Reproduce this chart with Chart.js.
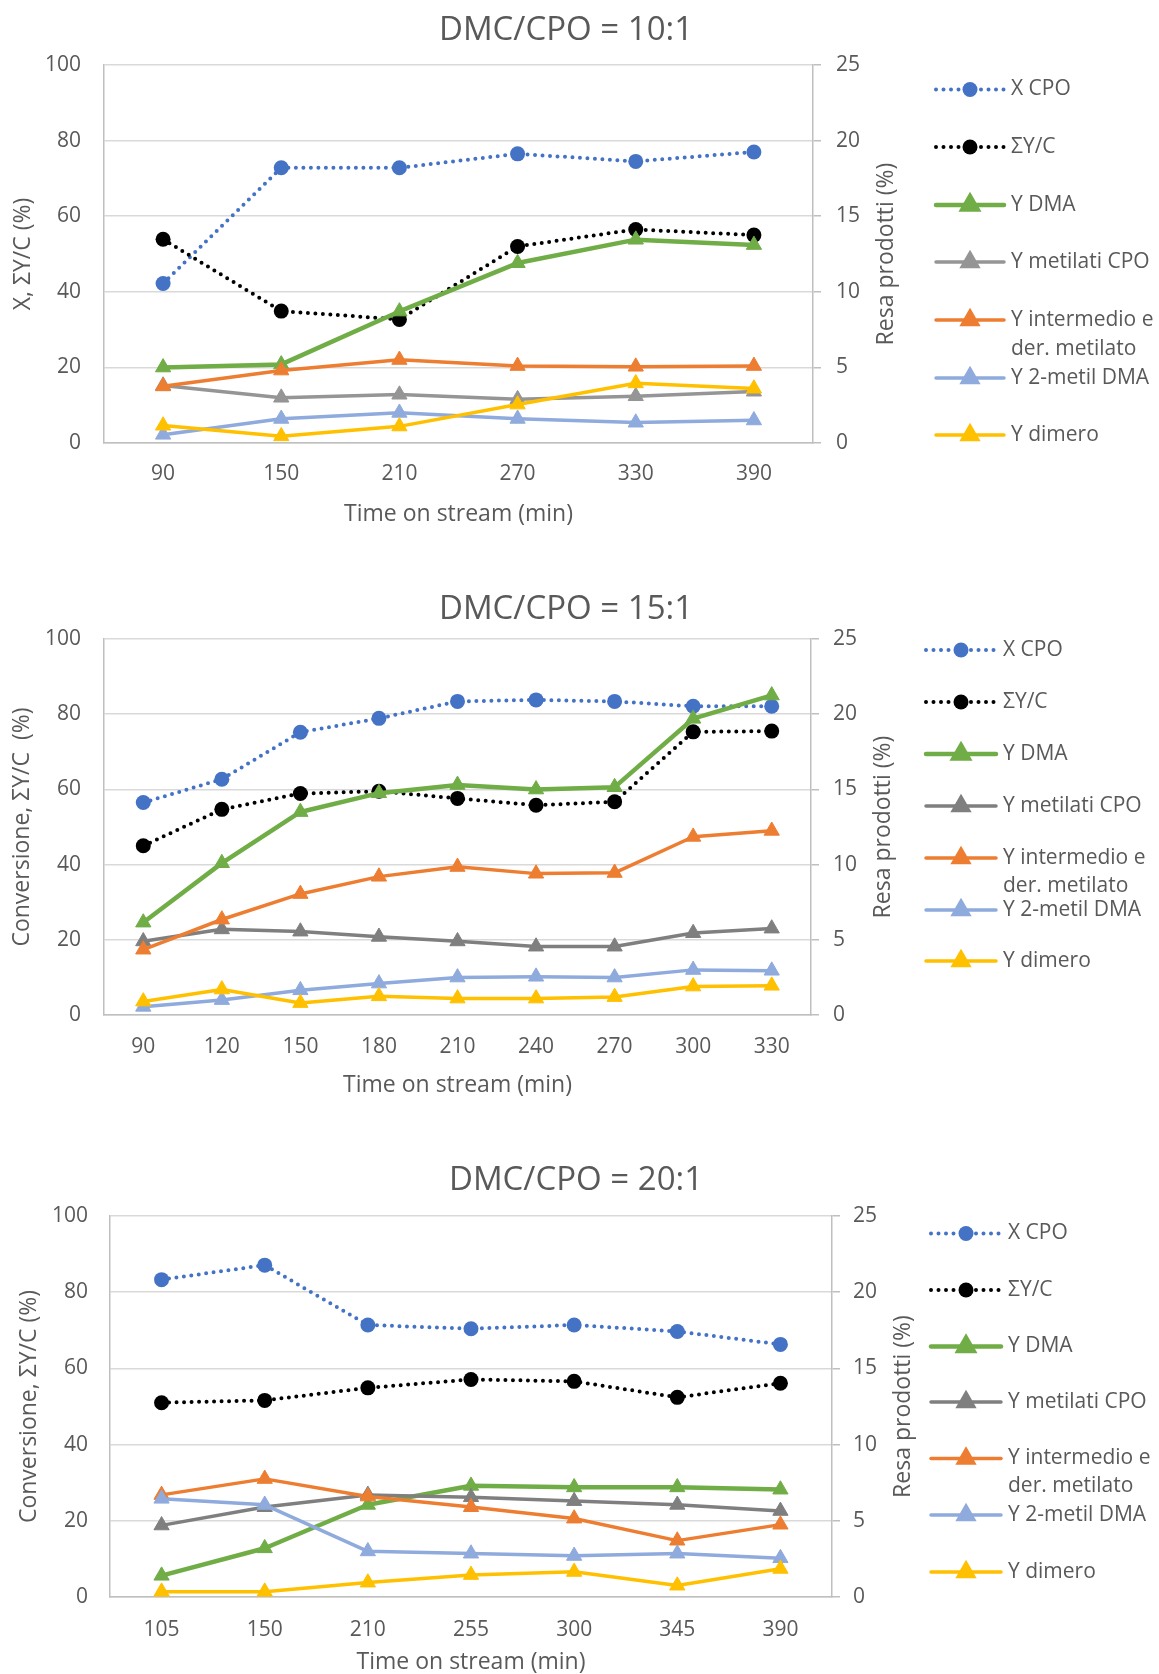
<!DOCTYPE html>
<html>
<head>
<meta charset="utf-8">
<script src="https://cdn.jsdelivr.net/npm/chart.js@4.4.1/dist/chart.umd.min.js"></script>
<style>
  html, body { margin: 0; padding: 0; background: #ffffff; }
  #page { position: relative; width: 1159px; height: 1674px; background: #ffffff; }
  .panel { position: absolute; left: 0; width: 1159px; }
  .panel canvas { display: block; }
</style>
</head>
<body>
<div id="page">
  <div class="panel" style="top:0px;height:545px"><canvas id="c10" width="1159" height="545"></canvas></div>
  <div class="panel" style="top:560px;height:545px"><canvas id="c15" width="1159" height="545"></canvas></div>
  <div class="panel" style="top:1140px;height:534px"><canvas id="c20" width="1159" height="534"></canvas></div>
</div>
<script>
// ---- DMC/CPO = 10:1 ----
const time10   = ['90', '150', '210', '270', '330', '390'];
const xCPO10   = [42.2, 72.8, 72.8, 76.5, 74.5, 77.0];   // %, left axis
const sumYC10  = [53.9, 34.9, 32.7, 52.0, 56.5, 55.0];   // %, left axis
const yDMA10   = [5.0, 5.2, 8.7, 11.9, 13.45, 13.1];     // %, right axis
const yMet10   = [3.8, 3.0, 3.2, 2.9, 3.1, 3.4];
const yInt10   = [3.75, 4.8, 5.5, 5.1, 5.05, 5.1];
const y2Met10  = [0.55, 1.6, 2.0, 1.6, 1.35, 1.5];
const yDim10   = [1.15, 0.45, 1.1, 2.55, 3.95, 3.6];

// ---- DMC/CPO = 15:1 ----
const time15   = ['90', '120', '150', '180', '210', '240', '270', '300', '330'];
const xCPO15   = [56.5, 62.7, 75.2, 78.9, 83.4, 83.8, 83.4, 82.1, 82.1];
const sumYC15  = [45.0, 54.7, 58.9, 59.5, 57.6, 55.8, 56.7, 75.3, 75.5];
const yDMA15   = [6.15, 10.1, 13.5, 14.75, 15.3, 15.0, 15.15, 19.7, 21.25];
const yMet15   = [4.9, 5.7, 5.55, 5.2, 4.9, 4.55, 4.55, 5.45, 5.75];
const yInt15   = [4.35, 6.35, 8.05, 9.2, 9.85, 9.4, 9.45, 11.85, 12.25];
const y2Met15  = [0.55, 1.0, 1.65, 2.1, 2.5, 2.55, 2.5, 3.0, 2.95];
const yDim15   = [0.9, 1.7, 0.8, 1.25, 1.1, 1.1, 1.2, 1.9, 1.95];

// ---- DMC/CPO = 20:1 ----
const time20   = ['105', '150', '210', '255', '300', '345', '390'];
const xCPO20   = [83.3, 87.1, 71.4, 70.4, 71.4, 69.7, 66.3];
const sumYC20  = [51.0, 51.6, 54.9, 57.1, 56.6, 52.4, 56.1];
const yDMA20   = [1.4, 3.2, 6.05, 7.3, 7.2, 7.2, 7.05];
const yMet20   = [4.7, 5.9, 6.7, 6.55, 6.3, 6.05, 5.65];
const yInt20   = [6.7, 7.75, 6.6, 5.9, 5.15, 3.7, 4.75];
const y2Met20  = [6.45, 6.05, 3.0, 2.85, 2.7, 2.85, 2.55];
const yDim20   = [0.35, 0.35, 0.95, 1.45, 1.65, 0.75, 1.85];

// Axis ticks and labels
const leftTicks  = { min: 0, max: 100, step: 20 };
const rightTicks = { min: 0, max: 25, step: 5 };
const seriesNames = ['X CPO', 'ΣY/C', 'Y DMA', 'Y metilati CPO', 'Y intermedio e\nder. metilato', 'Y 2-metil DMA', 'Y dimero'];
const xAxisTitle = 'Time on stream (min)';
const rightAxisTitle = 'Resa prodotti (%)';

const FONT = "'Open Sans', 'Noto Sans', 'DejaVu Sans', sans-serif";
const TEXT = '#595959';
const GRID = '#d9d9d9';
const AXIS = '#bfbfbf';
const TICK_SIZE = 21;

function makeSeries(vals, grayColor) {
  const [xc, sy, dma, met, intm, m2, dim] = vals;
  const dotted = (label, data, color, order) => ({
    label, data, yAxisID: 'y', order,
    borderColor: color, backgroundColor: color,
    borderWidth: 4, borderDash: [0, 7.5], borderCapStyle: 'round',
    pointStyle: 'circle', pointRadius: 7.5, pointBorderWidth: 0,
    pointBackgroundColor: color, tension: 0, clip: false
  });
  const solid = (label, data, color, order, w) => ({
    label, data, yAxisID: 'y2', order,
    borderColor: color, backgroundColor: color,
    borderWidth: w, borderCapStyle: 'round', borderJoinStyle: 'round',
    pointStyle: 'triangle', pointRadius: 8.8, pointBorderWidth: 1,
    pointBackgroundColor: color, pointBorderColor: color, tension: 0, clip: false
  });
  return [
    dotted(seriesNames[0], xc, '#4472c4', 6),
    dotted(seriesNames[1], sy, '#000000', 5),
    solid(seriesNames[2], dma, '#70ad47', 4, 4.5),
    solid(seriesNames[3], met, grayColor, 3, 3.5),
    solid(seriesNames[4], intm, '#ed7d31', 2, 3.5),
    solid(seriesNames[5], m2, '#8faadc', 1, 3.5),
    solid(seriesNames[6], dim, '#ffc000', 0, 3.5)
  ];
}

// Titles, axis titles and legend drawn on top of the plot
const decorPlugin = {
  id: 'decor',
  afterDraw(chart, args, g) {
    const ctx = chart.ctx;
    const ca = chart.chartArea;
    ctx.save();
    ctx.fillStyle = TEXT;
    // chart title
    ctx.font = `33px ${FONT}`;
    ctx.textAlign = 'center';
    ctx.textBaseline = 'middle';
    ctx.fillText(g.title, g.titleX, g.titleY);
    // x axis title
    ctx.font = `23px ${FONT}`;
    ctx.fillText(xAxisTitle, (ca.left + ca.right) / 2, g.xTitleY);
    // rotated y axis titles
    const cy = (ca.top + ca.bottom) / 2;
    [[g.yTitle, g.yTitleX], [rightAxisTitle, g.y2TitleX]].forEach(([t, x]) => {
      ctx.save();
      ctx.translate(x, cy);
      ctx.rotate(-Math.PI / 2);
      ctx.fillText(t, 0, 0);
      ctx.restore();
    });
    // legend
    ctx.font = `21px ${FONT}`;
    ctx.textAlign = 'left';
    chart.data.datasets.forEach((ds, i) => {
      const y = g.legendY[i];
      const mx = (g.lx0 + g.lx1) / 2;
      ctx.save();
      ctx.strokeStyle = ds.borderColor;
      ctx.lineWidth = ds.borderWidth;
      ctx.lineCap = 'round';
      ctx.setLineDash(ds.borderDash || []);
      ctx.beginPath();
      ctx.moveTo(g.lx0, y);
      ctx.lineTo(g.lx1, y);
      ctx.stroke();
      ctx.setLineDash([]);
      ctx.fillStyle = ds.pointBackgroundColor;
      ctx.strokeStyle = ds.pointBorderColor || ds.pointBackgroundColor;
      Chart.helpers.drawPoint(ctx, {
        pointStyle: ds.pointStyle, radius: ds.pointRadius, rotation: 0,
        borderWidth: ds.pointBorderWidth
      }, mx, y);
      ctx.restore();
      ctx.fillStyle = TEXT;
      ds.label.split('\n').forEach((line, k) => {
        ctx.fillText(line, g.tx, y + k * g.legendLine);
      });
    });
    ctx.restore();
  }
};

function buildChart(id, labels, series, g) {
  const canvas = document.getElementById(id);
  const W = canvas.width, H = canvas.height;
  return new Chart(canvas, {
    type: 'line',
    data: { labels, datasets: series },
    options: {
      responsive: false,
      animation: false,
      devicePixelRatio: 1,
      events: [],
      layout: { padding: { top: g.top, left: 0, right: 0, bottom: 0 } },
      plugins: {
        legend: { display: false },
        title: { display: false },
        tooltip: { enabled: false },
        decor: g
      },
      scales: {
        x: {
          type: 'category', offset: true,
          grid: { display: false, drawTicks: false },
          border: { display: true, color: AXIS, width: 1.5 },
          ticks: { color: TEXT, font: { family: FONT, size: TICK_SIZE }, padding: g.xTickPad,
                   maxRotation: 0, autoSkip: false },
          afterFit(s) { s.height = H - g.bottom; }
        },
        y: {
          position: 'left', min: leftTicks.min, max: leftTicks.max,
          ticks: { stepSize: leftTicks.step, color: TEXT, font: { family: FONT, size: TICK_SIZE }, padding: g.yTickPad },
          grid: { color: GRID, lineWidth: 1.5, drawTicks: false },
          border: { display: true, color: AXIS, width: 1.5 },
          afterFit(s) { s.width = g.left; }
        },
        y2: {
          position: 'right', min: rightTicks.min, max: rightTicks.max,
          ticks: { stepSize: rightTicks.step, color: TEXT, font: { family: FONT, size: TICK_SIZE }, padding: g.y2TickPad },
          grid: { drawOnChartArea: false, drawTicks: true, tickLength: 8, color: AXIS, lineWidth: 1.5 },
          border: { display: true, color: AXIS, width: 1.5 },
          afterFit(s) { s.width = W - g.right; }
        }
      }
    },
    plugins: [decorPlugin]
  });
}

buildChart('c10', time10,
  makeSeries([xCPO10, sumYC10, yDMA10, yMet10, yInt10, y2Met10, yDim10], '#959595'),
  { title: 'DMC/CPO = 10:1', titleX: 566, titleY: 31,
    top: 65, bottom: 443, left: 104, right: 813,
    yTickPad: 23, y2TickPad: 15, xTickPad: 18.4,
    yTitle: 'X, ΣY/C (%)', yTitleX: 23, y2TitleX: 886, xTitleY: 514,
    lx0: 936, lx1: 1004, tx: 1011, legendLine: 29,
    legendY: [89.5, 147, 205, 262, 320, 378, 435] });

buildChart('c15', time15,
  makeSeries([xCPO15, sumYC15, yDMA15, yMet15, yInt15, y2Met15, yDim15], '#7f7f7f'),
  { title: 'DMC/CPO = 15:1', titleX: 566, titleY: 50,
    top: 79, bottom: 455, left: 104, right: 811,
    yTickPad: 23, y2TickPad: 14, xTickPad: 19.4,
    yTitle: 'Conversione, ΣY/C  (%)', yTitleX: 22, y2TitleX: 883, xTitleY: 525,
    lx0: 926, lx1: 996, tx: 1003, legendLine: 28,
    legendY: [90, 142, 194, 246, 298, 350, 401] });

buildChart('c20', time20,
  makeSeries([xCPO20, sumYC20, yDMA20, yMet20, yInt20, y2Met20, yDim20], '#7f7f7f'),
  { title: 'DMC/CPO = 20:1', titleX: 576, titleY: 41,
    top: 76, bottom: 457, left: 110, right: 832,
    yTickPad: 22, y2TickPad: 13, xTickPad: 20.4,
    yTitle: 'Conversione, ΣY/C (%)', yTitleX: 29, y2TitleX: 903, xTitleY: 522,
    lx0: 931, lx1: 1001, tx: 1008, legendLine: 28,
    legendY: [93.5, 150, 206.5, 262, 318.5, 375, 432] });
</script>
</body>
</html>
